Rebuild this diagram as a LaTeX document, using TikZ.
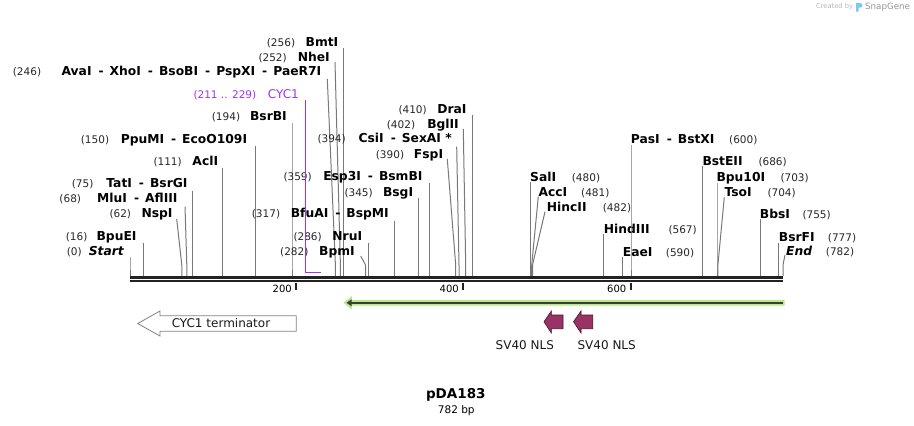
\documentclass[tikz,border=0pt]{standalone}
\usepackage{fontspec}
\setmainfont{DejaVu Sans}
\usetikzlibrary{arrows.meta}
\definecolor{enzline}{RGB}{120,120,120}
\definecolor{bbcol}{RGB}{34,34,34}
\definecolor{cycpurple}{RGB}{160,50,240}
\definecolor{glowgreen}{RGB}{180,235,130}
\definecolor{coregray}{RGB}{60,60,60}
\definecolor{nlsfill}{RGB}{153,51,102}
\definecolor{nlsdraw}{RGB}{70,20,45}
\definecolor{termgray}{RGB}{130,130,130}
\definecolor{logoblue}{RGB}{120,200,240}
\definecolor{logogray}{RGB}{150,150,150}
\newcommand\dsep{\hspace{7pt}-\hspace{6pt}}
\tikzset{
  num/.style={font=\fontsize{10.5}{12}\selectfont, inner sep=0pt, text=black!85},
  ename/.style={font=\fontsize{12.3}{14}\selectfont\bfseries, inner sep=0pt, text=black},
  eline/.style={draw=enzline, line width=1pt},
  featlabel/.style={font=\fontsize{12}{14}\selectfont, inner sep=0pt, text=black!90},
  ticklabel/.style={font=\fontsize{10}{12}\selectfont, inner sep=0pt, anchor=base east},
  tickmark/.style={draw=bbcol, line width=1.6pt},
}
% left-side label: id, number, number left x, name, name right x, y centre, top x, top y, site x
\newcommand\enzL[9]{%
  \node[num, anchor=base west] (p#1) at (#3,#6+4.3) {#2};
  \node[ename, anchor=base east] (n#1) at (#5,#6+4.3) {#4};
  \coordinate (t#1) at (#7,#8);
  \coordinate (b#1) at (#9,265);
  \coordinate (s#1) at (#9,276);
  \draw[eline] (t#1) -- (b#1) -- (s#1);
}
% right-side label: id, name, name left x, number, number left x, y centre, top x, top y, site x
\newcommand\enzR[9]{%
  \node[ename, anchor=base west] (n#1) at (#3,#6+4.3) {#2};
  \node[num, anchor=base west] (p#1) at (#5,#6+4.3) {#4};
  \coordinate (t#1) at (#7,#8);
  \coordinate (b#1) at (#9,265);
  \coordinate (s#1) at (#9,276);
  \draw[eline] (t#1) -- (b#1) -- (s#1);
}
\begin{document}
\begin{tikzpicture}[x=1pt,y=-1pt]
\useasboundingbox (0,0) rectangle (914,426);

% enzyme sites, left labels
\enzL{Ava}{(246)}{12.7}{AvaI\dsep XhoI\dsep BsoBI\dsep PspXI\dsep PaeR7I}{321.5}{71.5}{327.3}{79}{335.4}
\enzL{Nhe}{(252)}{258.3}{NheI}{330}{57}{335}{62}{340.4}
\enzL{Bmt}{(256)}{266.7}{BmtI}{338.5}{42}{343.8}{48}{343.8}
\enzL{Bsrb}{(194)}{211.7}{BsrBI}{287}{116.5}{292}{123}{292}
\enzL{Ppu}{(150)}{80.7}{PpuMI\dsep EcoO109I}{247.3}{139}{255.3}{145.7}{255.3}
\enzL{Acl}{(111)}{153.3}{AclI}{218.3}{161.5}{222.7}{168}{222.7}
\enzL{Tat}{(75)}{71.7}{TatI\dsep BsrGI}{187.7}{183.5}{192.6}{191}{192.6}
\enzL{Mlu}{(68)}{59.3}{MluI\dsep AflIII}{177.7}{198.5}{185}{206.7}{186.8}
\enzL{Nsp}{(62)}{109.3}{NspI}{172.7}{213}{176.7}{219}{181.8}
\enzL{Bpue}{(16)}{65.7}{BpuEI}{136.7}{236.5}{143.4}{243.3}{143.4}
\enzL{Start}{(0)}{66.7}{\itshape Start}{124}{251}{130}{257.3}{130}
\enzL{Bpm}{(282)}{280}{BpmI}{355}{251.5}{360.7}{256}{365.5}
\enzL{Nru}{(286)}{293.3}{NruI}{362.3}{236.5}{368.8}{243}{368.8}
\enzL{Bfu}{(317)}{251.7}{BfuAI\dsep BspMI}{389}{213.5}{394.7}{220.7}{394.7}
\enzL{Bsg}{(345)}{344.3}{BsgI}{413.3}{192}{418.1}{198}{418.1}
\enzL{Esp}{(359)}{283.3}{Esp3I\dsep BsmBI}{422.7}{176.5}{429.8}{183}{429.8}
\enzL{Fsp}{(390)}{375.7}{FspI}{443.3}{154}{447.3}{159}{455.7}
\enzL{Csi}{(394)}{317.3}{CsiI\dsep SexAI *}{452}{138.5}{456.7}{146.7}{459}
\enzL{Bgl}{(402)}{386.7}{BglII}{459}{124}{463.3}{129}{465.7}
\enzL{Dra}{(410)}{398.3}{DraI}{466.7}{109}{472.4}{115}{472.4}

% enzyme sites, right labels
\enzR{Sal}{SalI}{530}{(480)}{571.7}{177}{530.8}{181.7}{530.8}
\enzR{Acc}{AccI}{538.3}{(481)}{581}{192}{538.3}{196.7}{531.7}
\enzR{Hinc}{HincII}{546.7}{(482)}{602.7}{207}{545}{211.7}{532.5}
\enzR{Hind}{HindIII}{603.7}{(567)}{668.3}{229}{603.5}{234}{603.5}
\enzR{Eae}{EaeI}{622.7}{(590)}{665.7}{252}{622.7}{256.7}{622.7}
\enzR{Pas}{PasI\dsep BstXI}{630.7}{(600)}{729}{139}{631}{145}{631}
\enzR{Bste}{BstEII}{702.3}{(686)}{758.3}{161.5}{702.8}{166}{702.8}
\enzR{Bpu}{Bpu10I}{716.3}{(703)}{780.3}{177}{717}{183}{717}
\enzR{Tso}{TsoI}{724.3}{(704)}{767.3}{192}{724.3}{197.3}{717.9}
\enzR{Bbs}{BbsI}{759.7}{(755)}{802.3}{214}{760.5}{219}{760.5}
\enzR{Bsrf}{BsrFI}{778.7}{(777)}{827.7}{237}{778.8}{243}{778.8}
\enzR{End}{\itshape End}{786}{(782)}{825.7}{251.5}{785}{255}{783}

% CYC1 primer
\node[num, anchor=base west, text=cycpurple] (cycnum) at (193.3,98.3) {(211 .. 229)};
\node[font=\fontsize{12}{14}\selectfont, inner sep=0pt, anchor=base east, text=cycpurple] (cycname) at (299,98.3) {CYC1};
\coordinate (cycT) at (305.3,100);
\coordinate (cycB) at (305.3,272.5);
\coordinate (cycE) at (320.5,272.5);
\draw[cycpurple, line width=1.6pt] (cycT) -- (cycB) -- (cycE);

% backbone
\coordinate (bbL1) at (130,277.4);
\coordinate (bbR1) at (783,277.4);
\coordinate (bbL2) at (130,281.3);
\coordinate (bbR2) at (783,281.3);
\draw[bbcol, line width=2.7pt] (bbL1) -- (bbR1);
\draw[bbcol, line width=2pt] (bbL2) -- (bbR2);

% ticks
\coordinate (tk2a) at (296,282.5); \coordinate (tk2b) at (296,289.5);
\coordinate (tk4a) at (463,282.5); \coordinate (tk4b) at (463,289.5);
\coordinate (tk6a) at (630.7,282.5); \coordinate (tk6b) at (630.7,289.5);
\draw[tickmark] (tk2a) -- (tk2b);
\draw[tickmark] (tk4a) -- (tk4b);
\draw[tickmark] (tk6a) -- (tk6b);
\node[ticklabel] (l200) at (292,292.7) {200};
\node[ticklabel] (l400) at (459,292.7) {400};
\node[ticklabel] (l600) at (626.5,292.7) {600};

% green feature arrow
\fill[glowgreen] (343.5,302.8) -- (352,296) -- (352,300.1) -- (784.5,300.1) -- (784.5,305.5) -- (352,305.5) -- (352,309.6) -- cycle;
\coordinate (grR) at (782.5,302.8);
\coordinate (grL) at (346.5,302.8);
\draw[coregray, line width=2pt, -{Triangle[length=5pt,width=6.5pt]}] (grR) -- (grL);

% CYC1 terminator
\draw[termgray, fill=white, line width=0.8pt] (137.7,323.5) -- (160,311) -- (160,315.7) -- (296.3,315.7) -- (296.3,331.3) -- (160,331.3) -- (160,336) -- cycle;
\node[featlabel] (termlab) at (221,323.5) {CYC1 terminator};

% SV40 NLS arrows
\filldraw[fill=nlsfill, draw=nlsdraw, line width=0.6pt] (544,321.7) -- (551.3,311) -- (551.3,315) -- (563,315) -- (563,328.7) -- (551.3,328.7) -- (551.3,333) -- cycle;
\filldraw[fill=nlsfill, draw=nlsdraw, line width=0.6pt] (573.5,321.7) -- (581,311) -- (581,315) -- (592.8,315) -- (592.8,328.7) -- (581,328.7) -- (581,333) -- cycle;
\node[featlabel] (nls1) at (524.8,345) {SV40 NLS};
\node[featlabel] (nls2) at (606.7,345) {SV40 NLS};

% title
\node[font=\fontsize{13.5}{16}\selectfont\bfseries, inner sep=0pt] (title) at (455.8,395) {pDA183};
\node[font=\fontsize{10.5}{12}\selectfont, inner sep=0pt] (size) at (456.3,410.7) {782 bp};

% SnapGene mark
\node[font=\fontsize{6.7}{8}\selectfont, text=logogray!70, inner sep=0pt, anchor=west] (created) at (816,7) {Created by};
\fill[logoblue] (856.2,3.2) -- (860.5,3.2) .. controls (863,3.2) and (863,7.6) .. (860.5,7.6) -- (858.6,7.6) -- (858.6,11.6) -- (856.2,11.6) -- cycle;
\node[font=\fontsize{8.7}{10}\selectfont, text=logogray, inner sep=0pt, anchor=west] (snapgene) at (865,7) {SnapGene};
\end{tikzpicture}
\end{document}
